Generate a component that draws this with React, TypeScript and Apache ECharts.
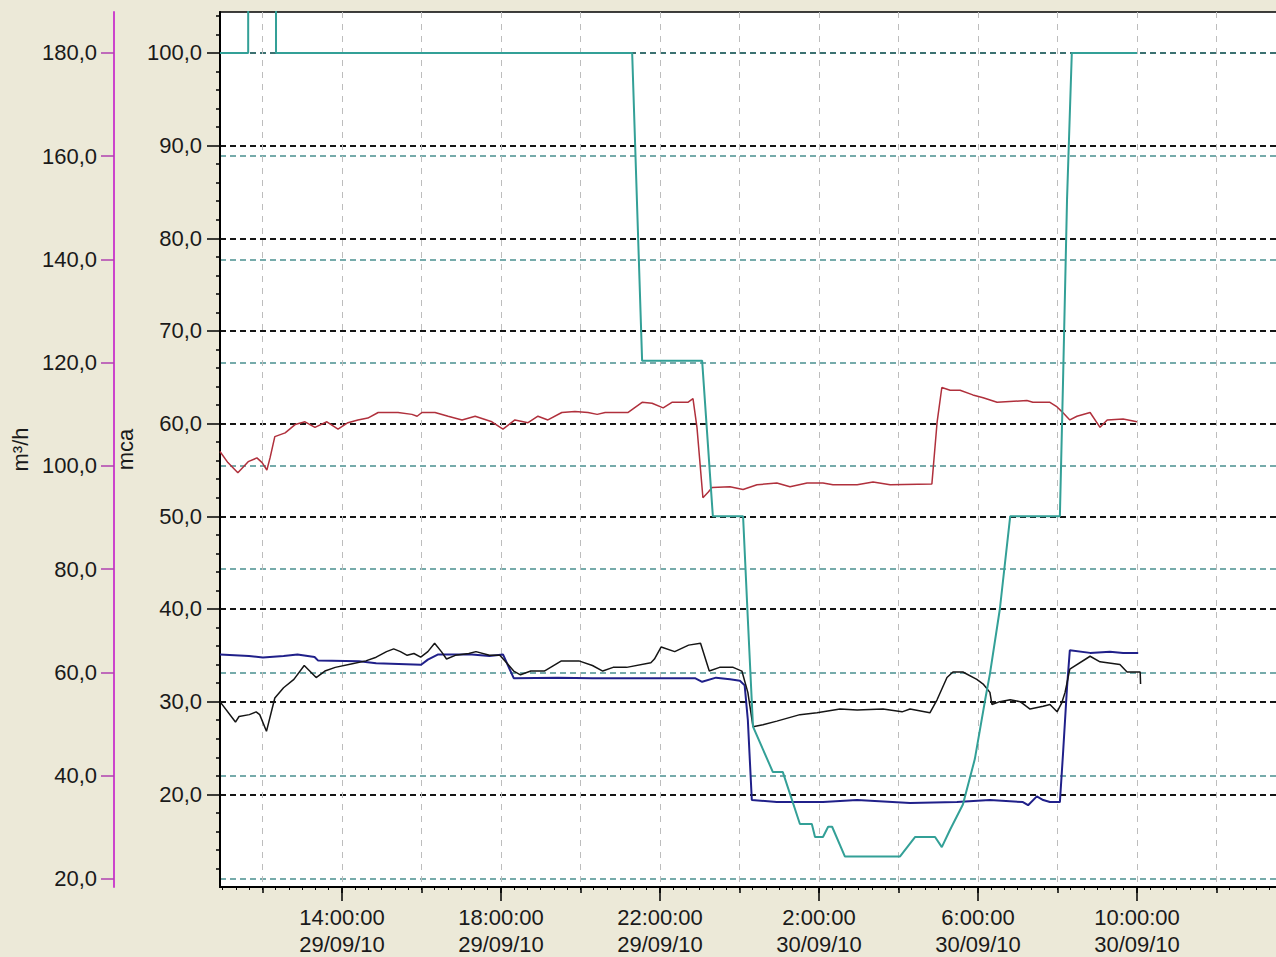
import React, { useEffect, useRef } from 'react';
import * as echarts from 'echarts';

// x values: hours counted from 29/09/10 00:00 (24 = 30/09/10 00:00)
const xMin = 10.931;
const xMax = 38.0;

const gridHourTicks = [12, 14, 16, 18, 20, 22, 24, 26, 28, 30, 32, 34, 36];
const labelHours = [14, 18, 22, 26, 30, 34];
const minorHourTicks: number[] = [];
for (let i = 33; i <= 113; i++) minorHourTicks.push(i / 3);

const mcaTicks = [20, 30, 40, 50, 60, 70, 80, 90, 100];
const mcaMinorTicks = [12, 14, 16, 18, 22, 24, 26, 28, 32, 34, 36, 38, 42, 44, 46, 48, 52, 54, 56, 58, 62, 64, 66, 68, 72, 74, 76, 78, 82, 84, 86, 88, 92, 94, 96, 98, 102, 104];
const flowTicks = [20, 40, 60, 80, 100, 120, 140, 160, 180];

// valve-like stepped series (mca axis)
const tealSeries: [number, number][] = [
  [10.93, 100], [11.64, 100], [11.64, 110], [12.34, 110], [12.34, 100], [21.3, 100], [21.55, 66.8],
  [23.06, 66.8], [23.33, 50], [24.09, 50], [24.21, 38.9], [24.34, 27.3], [24.84, 22.4], [25.09, 22.4],
  [25.52, 16.8], [25.82, 16.8], [25.9, 15.4], [26.1, 15.4], [26.23, 16.5], [26.33, 16.5], [26.65, 13.3],
  [28.04, 13.3], [28.42, 15.4], [28.92, 15.4], [29.09, 14.3], [29.3, 16.2], [29.62, 18.9], [29.92, 23.8],
  [30.18, 30.2], [30.3, 33], [30.55, 40], [30.81, 50], [32.06, 50], [32.14, 64.7], [32.24, 84.2],
  [32.36, 100], [34.0, 100],
];

// red pressure (mca)
const redSeries: [number, number][] = [
  [10.93, 57.0], [11.13, 55.8], [11.38, 54.7], [11.64, 55.9], [11.86, 56.3], [11.99, 55.8], [12.11, 55.0],
  [12.19, 56.3], [12.31, 58.6], [12.57, 59.0], [12.82, 59.9], [13.07, 60.2], [13.32, 59.6], [13.62, 60.2],
  [13.9, 59.4], [14.15, 60.1], [14.4, 60.4], [14.65, 60.6], [14.91, 61.2], [15.41, 61.2], [15.76, 61.0],
  [15.89, 60.8], [16.01, 61.2], [16.34, 61.2], [16.67, 60.8], [17.02, 60.4], [17.35, 60.8], [17.77, 60.2],
  [18.05, 59.4], [18.35, 60.4], [18.68, 60.1], [18.93, 60.8], [19.18, 60.4], [19.53, 61.2], [19.86, 61.3],
  [20.19, 61.2], [20.42, 61.0], [20.62, 61.2], [21.19, 61.2], [21.55, 62.3], [21.8, 62.2], [22.08, 61.7],
  [22.3, 62.3], [22.7, 62.3], [22.83, 62.7], [22.93, 59.6], [23.08, 52.0], [23.21, 52.6], [23.31, 53.1],
  [23.76, 53.2], [24.09, 52.9], [24.44, 53.4], [24.94, 53.6], [25.27, 53.2], [25.7, 53.6], [26.1, 53.6],
  [26.35, 53.4], [26.96, 53.4], [27.36, 53.7], [27.79, 53.4], [28.84, 53.5], [28.97, 60.1], [29.09, 63.9],
  [29.3, 63.6], [29.55, 63.6], [29.87, 63.1], [30.13, 62.8], [30.48, 62.3], [31.23, 62.5], [31.38, 62.3],
  [31.81, 62.3], [31.99, 61.8], [32.11, 61.3], [32.31, 60.4], [32.49, 60.8], [32.82, 61.2], [33.07, 59.6],
  [33.25, 60.4], [33.65, 60.5], [34.0, 60.2],
];

// black pressure (mca)
const blackSeries: [number, number][] = [
  [10.93, 30.0], [11.32, 27.8], [11.41, 28.4], [11.67, 28.6], [11.84, 28.9], [11.93, 28.6], [12.1, 26.8],
  [12.31, 30.4], [12.53, 31.5], [12.79, 32.4], [13.05, 33.9], [13.35, 32.6], [13.57, 33.3], [13.83, 33.7],
  [14.26, 34.1], [14.6, 34.4], [14.86, 34.8], [15.12, 35.4], [15.3, 35.7], [15.47, 35.4], [15.64, 35.0],
  [15.81, 35.2], [15.98, 34.8], [16.16, 35.4], [16.33, 36.3], [16.5, 35.4], [16.63, 34.6], [16.85, 35.0],
  [17.19, 35.2], [17.37, 35.4], [17.71, 35.0], [17.97, 35.0], [18.14, 34.2], [18.32, 33.3], [18.49, 32.9],
  [18.75, 33.3], [19.09, 33.3], [19.52, 34.4], [19.96, 34.4], [20.3, 33.9], [20.56, 33.3], [20.82, 33.7],
  [21.16, 33.7], [21.77, 34.2], [21.86, 34.6], [22.03, 35.9], [22.37, 35.4], [22.72, 36.1], [23.02, 36.3],
  [23.24, 33.3], [23.5, 33.7], [23.84, 33.7], [24.06, 33.3], [24.21, 31.0], [24.34, 27.3], [24.59, 27.5],
  [24.94, 27.9], [25.52, 28.6], [25.95, 28.8], [26.53, 29.2], [26.96, 29.1], [27.61, 29.2], [28.09, 28.9],
  [28.29, 29.2], [28.79, 28.8], [28.97, 30.2], [29.22, 32.6], [29.37, 33.2], [29.62, 33.2], [29.97, 32.4],
  [30.13, 31.9], [30.3, 31.0], [30.35, 29.7], [30.55, 30.0], [30.81, 30.2], [31.06, 30.0], [31.31, 29.2],
  [31.64, 29.5], [31.81, 29.7], [31.99, 28.9], [32.11, 29.9], [32.19, 31.0], [32.31, 33.5], [32.82, 34.9],
  [33.07, 34.3], [33.57, 34.0], [33.75, 33.2], [34.08, 33.2], [34.09, 31.9],
];

// navy flow (m³/h)
const navySeries: [number, number][] = [
  [10.93, 63.5], [11.66, 63.2], [12.01, 62.9], [12.53, 63.2], [12.88, 63.5], [13.31, 63.0], [13.4, 62.3],
  [14.43, 62.2], [14.86, 61.8], [15.99, 61.5], [16.16, 62.5], [16.42, 63.5], [17.27, 63.5], [17.71, 63.2],
  [18.05, 63.5], [18.32, 58.9], [19.43, 59.0], [20.3, 58.9], [22.88, 58.9], [23.06, 58.2], [23.41, 59.0],
  [23.76, 58.7], [24.01, 58.4], [24.13, 57.5], [24.21, 50.8], [24.31, 35.3], [24.94, 34.9], [26.1, 34.9],
  [26.96, 35.3], [28.29, 34.7], [29.47, 34.9], [30.3, 35.3], [31.13, 34.9], [31.26, 34.3], [31.48, 36.0],
  [31.64, 35.3], [31.81, 34.9], [32.06, 34.9], [32.14, 44.4], [32.24, 57.2], [32.31, 64.3], [32.82, 63.8],
  [33.32, 64.0], [33.65, 63.8], [34.03, 63.8],
];

const FONT = '"Liberation Sans", Arial, sans-serif';
const fmtNum = (v: number) => v.toFixed(1).replace('.', ',');
const fmtHour = (h: number) => {
  const day = h >= 24 ? 30 : 29;
  const hh = Math.round(h) % 24;
  return `${hh}:00:00\n${day}/09/10`;
};

export default function App() {
  const ref = useRef<HTMLDivElement>(null);
  useEffect(() => {
    if (!ref.current) return;
    const chart = echarts.init(ref.current, undefined, { renderer: 'svg' });
    const hidden = { show: false };
    chart.setOption({
      animation: false,
      backgroundColor: '#ECE9D8',
      textStyle: { fontFamily: FONT },
      grid: {
        left: 220, top: 12, width: 1076, height: 875,
        show: true, backgroundColor: '#ffffff', borderColor: '#000', borderWidth: 1.5,
        containLabel: false, outerBoundsMode: 'none',
      },
      xAxis: [
        {
          type: 'value', min: xMin, max: xMax, position: 'bottom',
          axisLine: { show: true, onZero: false, lineStyle: { color: '#000', width: 2 } },
          axisTick: { show: true, customValues: gridHourTicks, length: 6, lineStyle: { color: '#000', width: 1.5 } },
          axisLabel: {
            customValues: labelHours, formatter: fmtHour, margin: 17, lineHeight: 27,
            fontSize: 22, color: '#1a1a1a', fontFamily: FONT, hideOverlap: false,
          },
          splitLine: { show: true, lineStyle: { color: '#bdbdbd', width: 1, type: [6, 6] } },
        },
        {
          type: 'value', min: xMin, max: xMax, position: 'bottom',
          axisLine: { show: false, onZero: false },
          axisTick: { show: true, customValues: labelHours, length: 14, lineStyle: { color: '#000', width: 1.5 } },
          axisLabel: hidden, splitLine: hidden,
        },
        {
          type: 'value', min: xMin, max: xMax, position: 'bottom',
          axisLine: { show: false, onZero: false },
          axisTick: { show: true, customValues: minorHourTicks, length: 3, lineStyle: { color: '#000', width: 1 } },
          axisLabel: hidden, splitLine: hidden,
        },
      ],
      yAxis: [
        {
          type: 'value', min: 10, max: 104.42, position: 'left', offset: 0,
          name: 'mca', nameLocation: 'middle', nameRotate: 90, nameGap: 79,
          nameTextStyle: { fontSize: 22, color: '#1a1a1a', fontFamily: FONT },
          axisLine: { show: true, onZero: false, lineStyle: { color: '#000', width: 2 } },
          axisTick: { show: true, customValues: mcaTicks, length: 13, lineStyle: { color: '#000', width: 1.5 } },
          axisLabel: { customValues: mcaTicks, formatter: fmtNum, margin: 18, fontSize: 22, color: '#1a1a1a', fontFamily: FONT },
          splitLine: { show: true, lineStyle: { color: '#151515', width: 2, type: [6, 4] } },
        },
        {
          type: 'value', min: 10, max: 104.42, position: 'left', offset: 0,
          axisLine: { show: false, onZero: false },
          axisTick: { show: true, customValues: mcaMinorTicks, length: 4, lineStyle: { color: '#000', width: 1.5 } },
          axisLabel: hidden, splitLine: hidden,
        },
        {
          type: 'value', min: 18.45, max: 187.94, position: 'left', offset: 106,
          name: 'm³/h', nameLocation: 'middle', nameRotate: 90, nameGap: 78,
          nameTextStyle: { fontSize: 22, color: '#1a1a1a', fontFamily: FONT },
          axisLine: { show: true, onZero: false, lineStyle: { color: '#cc44cc', width: 2 } },
          axisTick: { show: true, customValues: flowTicks, length: 13, lineStyle: { color: '#b040b0', width: 1.5 } },
          axisLabel: { customValues: flowTicks, formatter: fmtNum, margin: 17, fontSize: 22, color: '#1a1a1a', fontFamily: FONT },
          splitLine: { show: true, lineStyle: { color: '#4a9090', width: 1.5, type: [6, 4] } },
        },
      ],
      series: [
        { type: 'line', name: 'red', xAxisIndex: 0, yAxisIndex: 0, data: redSeries, showSymbol: false, lineStyle: { color: '#b0303c', width: 1.5 }, z: 3 },
        { type: 'line', name: 'navy', xAxisIndex: 0, yAxisIndex: 2, data: navySeries, showSymbol: false, lineStyle: { color: '#20208a', width: 2 }, z: 3 },
        { type: 'line', name: 'black', xAxisIndex: 0, yAxisIndex: 0, data: blackSeries, showSymbol: false, lineStyle: { color: '#151515', width: 1.5 }, z: 4 },
        { type: 'line', name: 'teal', xAxisIndex: 0, yAxisIndex: 0, data: tealSeries, showSymbol: false, lineStyle: { color: '#33a097', width: 2 }, z: 5 },
      ],
    });
    return () => chart.dispose();
  }, []);
  return (
    <div
      ref={ref}
      style={{ position: 'fixed', left: 0, top: 0, width: 1276, height: 957, background: '#ECE9D8' }}
    />
  );
}
